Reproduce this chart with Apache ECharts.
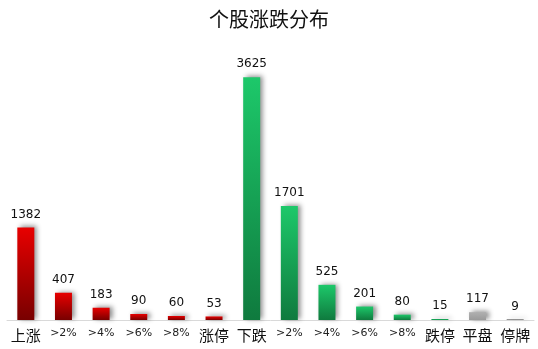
<!DOCTYPE html>
<html><head><meta charset="utf-8">
<script src="https://cdn.jsdelivr.net/npm/echarts@6/dist/echarts.min.js"></script>
<style>html,body{margin:0;padding:0;background:#fff}#c{width:538px;height:349px}</style>
</head><body><div id="c"></div>
<script>
const categories = ['上涨','>2%','>4%','>6%','>8%','涨停','下跌','>2%','>4%','>6%','>8%','跌停','平盘','停牌'];
const values = [1382,407,183,90,60,53,3625,1701,525,201,80,15,117,9];
const kinds = ['up','up','up','up','up','up','down','down','down','down','down','down','flat','halt'];

const grad = (a,b)=>new echarts.graphic.LinearGradient(0,0,0,1,[{offset:0,color:a},{offset:1,color:b}]);
const colors = {
  up: grad('#e80000','#780000'),
  down: grad('#1dc86a','#0f7a3e'),
  flat: grad('#b0b0b0','#9a9a9a'),
  halt: grad('#555555','#333333')
};
const chart = echarts.init(document.getElementById('c'));
chart.setOption({
  animation:false,
  title:{text:'个股涨跌分布',left:'center',top:4,textStyle:{fontFamily:'Noto Sans CJK SC',fontWeight:'normal',fontSize:20,color:'#111'}},
  grid:{left:7,right:4,top:52,bottom:29},
  xAxis:{type:'category',data:categories,axisLine:{lineStyle:{color:'#d9d9d9'}},axisTick:{show:false},
    axisLabel:{interval:0,color:'#111',margin:8,fontFamily:'Noto Sans CJK SC',
      formatter:v=>v.startsWith('>')?'{s|'+v+'}':'{c|'+v+'}',
      rich:{s:{fontSize:11,fontFamily:'DejaVu Sans',color:'#222'},c:{fontSize:15,fontFamily:'Noto Sans CJK SC',color:'#111'}}}},
  yAxis:{type:'value',min:0,max:4000,show:false,splitLine:{show:false}},
  series:[{type:'bar',barWidth:17,
    data:values.map((v,i)=>({value:v,itemStyle:{color:colors[kinds[i]]}})),
    itemStyle:{shadowColor:'rgba(0,0,0,0.45)',shadowBlur:5,shadowOffsetX:3,shadowOffsetY:-1},
    label:{show:true,position:'top',distance:7,color:'#111',fontSize:12,fontFamily:'DejaVu Sans'}}]
});
</script></body></html>
